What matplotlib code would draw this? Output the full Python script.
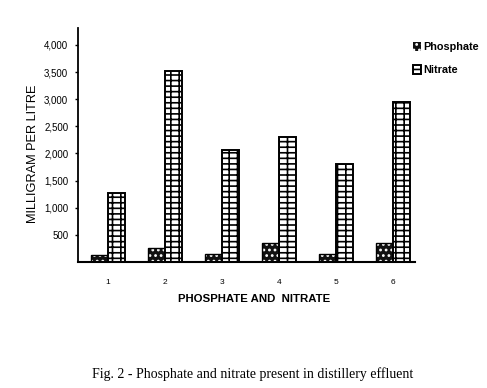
import numpy as np
import matplotlib
matplotlib.use("Agg")
import matplotlib.pyplot as plt
from matplotlib.ticker import FuncFormatter

# values (mg per litre)
samples = ["1", "2", "3", "4", "5", "6"]
phosphate = [130, 250, 150, 350, 150, 350]
nitrate = [1270, 3520, 2060, 2300, 1800, 2950]
y_ticks = [500, 1000, 1500, 2000, 2500, 3000, 3500, 4000]

plt.rcParams['font.family'] = ['Liberation Sans', 'DejaVu Sans']
plt.rcParams['hatch.linewidth'] = 1.2

fig = plt.figure(figsize=(4.87, 3.88), dpi=100)
ax = fig.add_axes([78 / 487, 1 - 262 / 388, (415 - 78) / 487, (262 - 28) / 388])

x = np.arange(1, len(samples) + 1)
w = 0.298

# phosphate: near-black fill with white speckle, then a black outline on top
p_bars = ax.bar(x - w / 2, phosphate, w, color="#111111", edgecolor="white",
                hatch="...", linewidth=0)
ax.bar(x - w / 2, phosphate, w, color="none", edgecolor="black", linewidth=1.0)

# nitrate: white bricks
n_bars = ax.bar(x + w / 2, nitrate, w, color="white", edgecolor="black",
                hatch="++-", linewidth=1.4)

ax.set_xlim(1 - 30 / 57.2, 6 + 22 / 57.2)
ax.set_ylim(0, 4313)
ax.set_yticks(y_ticks)
ax.yaxis.set_major_formatter(FuncFormatter(lambda v, p: f"{int(v):,}"))
ax.set_xticks(x)
ax.set_xticklabels(samples)

ax.spines['top'].set_visible(False)
ax.spines['right'].set_visible(False)
ax.spines['left'].set_linewidth(1.3)
ax.spines['bottom'].set_linewidth(1.5)
ax.tick_params(axis='y', length=2, width=1, pad=5, labelsize=7)
ax.tick_params(axis='x', length=0, pad=12, labelsize=6)

ax.set_xlabel("PHOSPHATE AND  NITRATE", fontsize=8.2, fontweight='bold', labelpad=6)
ax.xaxis.label.set_x(0.522)
ax.set_ylabel("MILLIGRAM PER LITRE", fontsize=9.2, labelpad=4)
ax.yaxis.label.set_y((262 - 154) / (262 - 28))

fig.legend([p_bars, n_bars], ["Phosphate", "Nitrate"], loc="upper left",
           bbox_to_anchor=(0.828, 0.918), frameon=False,
           prop={'size': 7.8, 'weight': 'bold'}, handlelength=0.7,
           handleheight=0.9, handletextpad=0.25, labelspacing=1.2)

fig.text(253 / 487, 1 - 374 / 388, "Fig. 2 - Phosphate and nitrate present in distillery effluent",
         ha="center", va="center", fontsize=10, family="Liberation Serif")

fig.savefig("out.png", dpi=100)
